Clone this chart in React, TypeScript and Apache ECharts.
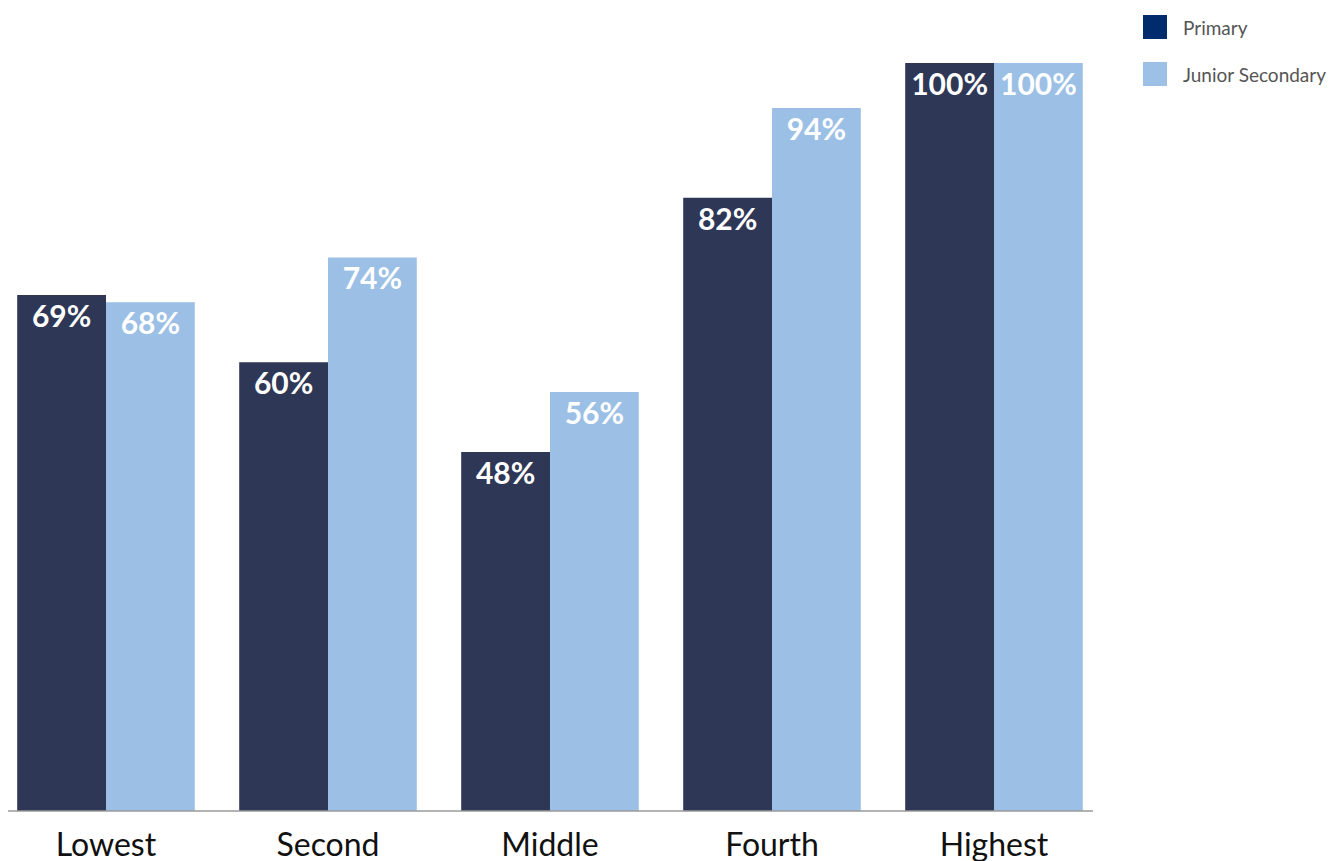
import React, { useEffect, useRef } from "react";
import * as echarts from "echarts";

const categories = ["Lowest", "Second", "Middle", "Fourth", "Highest"];
const primary = [69, 60, 48, 82, 100];
const juniorSecondary = [68, 74, 56, 94, 100];
const seriesNames = ["Primary", "Junior Secondary"];

export default function App() {
  const ref = useRef<HTMLDivElement>(null);
  useEffect(() => {
    if (!ref.current) return;
    const chart = echarts.init(ref.current, undefined, { renderer: "svg" });
    const label = {
      show: true,
      position: "insideTop",
      distance: 5,
      color: "#ffffff",
      fontFamily: "Lato",
      fontWeight: "bold",
      fontSize: 30,
      formatter: (p: any) => `${p.value}%`,
    };
    chart.setOption({
      animation: false,
      grid: { left: 0, right: 230, top: 63, bottom: 50, containLabel: false },
      legend: {
        orient: "vertical",
        left: 1143,
        top: 10,
        itemWidth: 24,
        itemHeight: 24,
        itemGap: 23,
        icon: "rect",
        textStyle: { fontFamily: "Lato", fontSize: 19, color: "#555", padding: [0, 0, 0, 11] },
        data: [
          { name: seriesNames[0], itemStyle: { color: "#002B6C" } },
          { name: seriesNames[1], itemStyle: { color: "#9DC0E6" } },
        ],
      },
      xAxis: {
        type: "category",
        data: categories,
        axisLine: { show: false },
        axisTick: { show: false },
        axisLabel: {
          fontFamily: "Lato",
          fontSize: 32,
          color: "#111",
          margin: 16,
        },
      },
      yAxis: {
        type: "value",
        min: 0,
        max: 100,
        show: false,
        splitLine: { show: false },
      },
      graphic: [
        {
          type: "line",
          shape: { x1: 13, y1: 811, x2: 1098, y2: 811 },
          style: { stroke: "#9a9a9a", lineWidth: 1.5 },
          z: 10,
        },
      ],
      series: [
        {
          name: seriesNames[0],
          type: "bar",
          data: primary,
          barGap: "0%",
          barCategoryGap: "20%",
          itemStyle: { color: "#2E3756" },
          label,
        },
        {
          name: seriesNames[1],
          type: "bar",
          data: juniorSecondary,
          barGap: "0%",
          barCategoryGap: "20%",
          itemStyle: { color: "#9BBFE5" },
          label,
        },
      ],
    });
    return () => chart.dispose();
  }, []);
  return <div ref={ref} style={{ position: "absolute", left: -5, top: 0, width: 1340, height: 861 }} />;
}
